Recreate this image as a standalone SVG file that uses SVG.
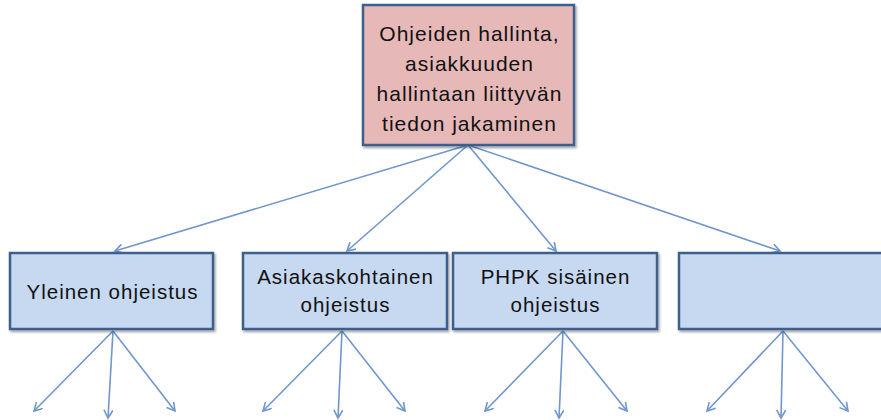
<svg xmlns="http://www.w3.org/2000/svg" width="881" height="420" viewBox="0 0 881 420">
  <style>
    .lbl { font-family: "Liberation Sans", Arial, sans-serif; fill: #111111; text-anchor: middle; letter-spacing: 1px; }
    .top { font-size: 21px; }
    .sub { font-size: 20.5px; }
    .box { stroke: #3e5f8d; stroke-width: 2.5; }
    .root { fill: #e6b9b8; }
    .leaf { fill: #c6d9f1; }
    .conn { stroke: #7096cc; stroke-width: 1.6; fill: none; marker-end: url(#arrow); }
  </style>
  <defs>
    <marker id="arrow" markerUnits="userSpaceOnUse" markerWidth="12" markerHeight="12" refX="9" refY="5" orient="auto">
      <path d="M1,0.5 L9,5 L1,9.5" fill="none" stroke="#7096cc" stroke-width="1.6"/>
    </marker>
    <filter id="shadow" x="-5%" y="-5%" width="112%" height="120%">
      <feDropShadow dx="1.5" dy="2" stdDeviation="1.2" flood-color="#000" flood-opacity="0.35"/>
    </filter>
  </defs>
  <rect width="881" height="420" fill="#ffffff"/>

  <!-- connectors -->
  <g id="connectors">
    <line class="conn" x1="468" y1="145" x2="115" y2="251"/>
    <line class="conn" x1="468" y1="145" x2="347" y2="251"/>
    <line class="conn" x1="468" y1="145" x2="556" y2="251"/>
    <line class="conn" x1="468" y1="145" x2="780" y2="251"/>

    <line class="conn" x1="113" y1="331" x2="34" y2="411"/>
    <line class="conn" x1="113" y1="331" x2="108" y2="418"/>
    <line class="conn" x1="113" y1="331" x2="175" y2="411"/>

    <line class="conn" x1="342" y1="331" x2="263" y2="411"/>
    <line class="conn" x1="342" y1="331" x2="338" y2="418"/>
    <line class="conn" x1="342" y1="331" x2="405" y2="411"/>

    <line class="conn" x1="563" y1="331" x2="485" y2="411"/>
    <line class="conn" x1="563" y1="331" x2="559" y2="418"/>
    <line class="conn" x1="563" y1="331" x2="627" y2="411"/>

    <line class="conn" x1="783" y1="331" x2="707" y2="411"/>
    <line class="conn" x1="783" y1="331" x2="781" y2="418"/>
    <line class="conn" x1="783" y1="331" x2="848" y2="411"/>
  </g>

  <g id="root">
    <rect class="box root" x="363" y="5" width="211" height="140" filter="url(#shadow)"/>
    <text class="lbl top" x="469.5" y="41">Ohjeiden hallinta,</text>
    <text class="lbl top" x="469.5" y="71">asiakkuuden</text>
    <text class="lbl top" x="469.5" y="101">hallintaan liittyvän</text>
    <text class="lbl top" x="469.5" y="131">tiedon jakaminen</text>
  </g>

  <g id="yleinen">
    <rect class="box leaf" x="10" y="253" width="203" height="76" filter="url(#shadow)"/>
    <text class="lbl sub" x="112.5" y="299">Yleinen ohjeistus</text>
  </g>

  <g id="asiakaskohtainen">
    <rect class="box leaf" x="243" y="253" width="204" height="76" filter="url(#shadow)"/>
    <text class="lbl sub" x="345.5" y="284">Asiakaskohtainen</text>
    <text class="lbl sub" x="345.5" y="312">ohjeistus</text>
  </g>

  <g id="phpk">
    <rect class="box leaf" x="453" y="253" width="204" height="76" filter="url(#shadow)"/>
    <text class="lbl sub" x="555.5" y="284">PHPK sisäinen</text>
    <text class="lbl sub" x="555.5" y="312">ohjeistus</text>
  </g>

  <g id="empty">
    <rect class="box leaf" x="679" y="253" width="206" height="76" filter="url(#shadow)"/>
  </g>
</svg>
